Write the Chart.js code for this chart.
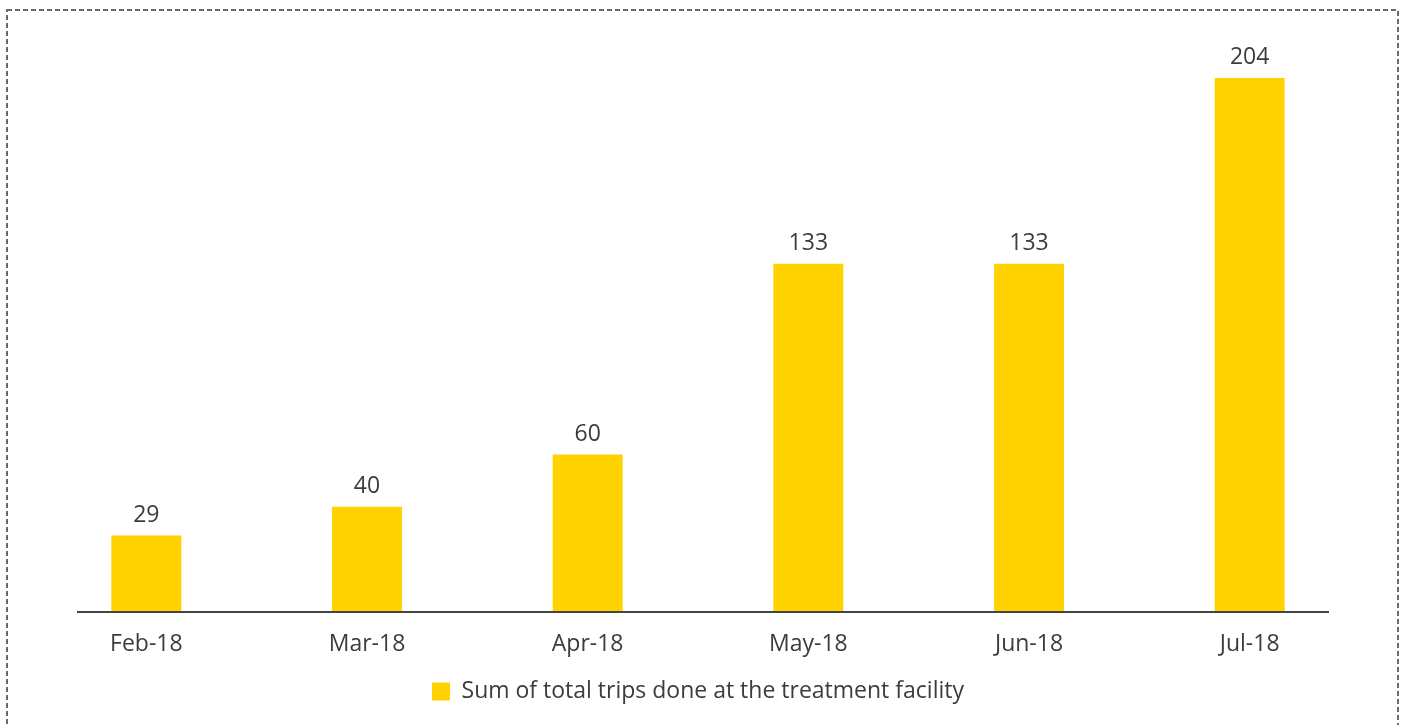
<!DOCTYPE html>
<html>
<head>
<meta charset="utf-8">
<script src="https://cdn.jsdelivr.net/npm/chart.js@4/dist/chart.umd.min.js"></script>
<style>
  html, body { margin: 0; padding: 0; background: #fff; }
  #wrap { width: 1407px; height: 725px; position: relative; }
</style>
</head>
<body>
<div id="wrap"><canvas id="c" width="1407" height="725"></canvas></div>
<script>
const categories = ["Feb-18", "Mar-18", "Apr-18", "May-18", "Jun-18", "Jul-18"];
const tripValues = [29, 40, 60, 133, 133, 204];
const seriesName = "Sum of total trips done at the treatment facility";

const TEXT = "#3c3c3c";
const YELLOW = "#FFD200";
const FONT = "'Open Sans'";

const framePlugin = {
  id: "frame",
  beforeDraw(chart) {
    const ctx = chart.ctx;
    ctx.save();
    ctx.fillStyle = "#fff";
    ctx.fillRect(0, 0, chart.width, chart.height);
    ctx.strokeStyle = "#6a6a6a";
    ctx.lineWidth = 2;
    ctx.setLineDash([5, 3]);
    ctx.strokeRect(7, 10, 1391, 730);
    ctx.restore();
  },
  afterDatasetsDraw(chart) {
    const ctx = chart.ctx;
    const y = chart.scales.y.getPixelForValue(0);
    ctx.save();
    ctx.strokeStyle = "#444";
    ctx.lineWidth = 2;
    ctx.beginPath();
    ctx.moveTo(77, Math.round(y) + 1);
    ctx.lineTo(1329, Math.round(y) + 1);
    ctx.stroke();
    // value labels
    ctx.fillStyle = TEXT;
    ctx.font = "23px " + FONT;
    ctx.textAlign = "center";
    ctx.textBaseline = "bottom";
    const meta = chart.getDatasetMeta(0);
    meta.data.forEach((bar, i) => {
      ctx.fillText(String(chart.data.datasets[0].data[i]), bar.x, bar.y - 9);
    });
    ctx.restore();
  }
};

new Chart(document.getElementById("c"), {
  type: "bar",
  data: {
    labels: categories,
    datasets: [{
      label: seriesName,
      data: tripValues,
      backgroundColor: YELLOW,
      borderWidth: 0,
      categoryPercentage: 1,
      barPercentage: 0.317
    }]
  },
  options: {
    responsive: false,
    animation: false,
    layout: { padding: { left: 36, right: 47, top: 10, bottom: 12 } },
    scales: {
      x: {
        grid: { display: false },
        border: { display: false },
        ticks: { color: TEXT, font: { family: FONT, size: 23 }, padding: 11.5 }
      },
      y: {
        display: false,
        min: 0,
        max: 230
      }
    },
    plugins: {
      legend: {
        position: "bottom",
        labels: {
          color: TEXT,
          font: { family: FONT, size: 23 },
          boxWidth: 18,
          boxHeight: 18,
          padding: 10
        }
      },
      tooltip: { enabled: false }
    }
  },
  plugins: [framePlugin]
});
</script>
</body>
</html>
